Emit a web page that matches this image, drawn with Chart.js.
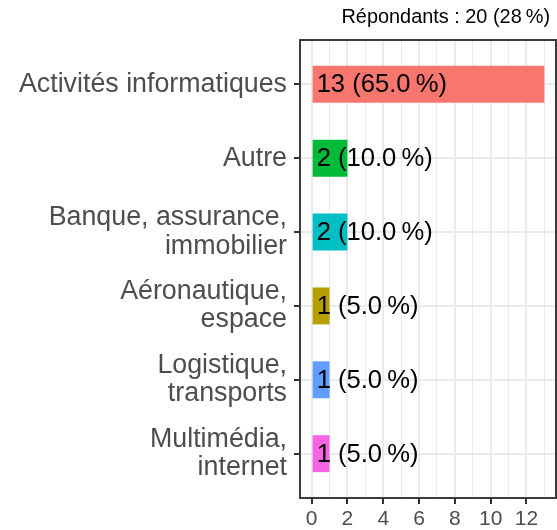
<!DOCTYPE html>
<html>
<head>
<meta charset="utf-8">
<script src="https://cdn.jsdelivr.net/npm/chart.js@4.4.1/dist/chart.umd.min.js"></script>
<style>
  html, body { margin: 0; padding: 0; background: #fff; }
  #wrap { width: 557px; height: 530px; }
</style>
</head>
<body>
<div id="wrap"><canvas id="chart" width="557" height="530"></canvas></div>
<script>
'use strict';

// values
let categories = ['Activités informatiques', 'Autre', 'Banque, assurance,\nimmobilier',
  'Aéronautique,\nespace', 'Logistique,\ntransports', 'Multimédia,\ninternet'];
let counts = [13, 2, 2, 1, 1, 1];
let percents = ['65.0', '10.0', '10.0', '5.0', '5.0', '5.0'];
let barColors = ['#F8766D', '#00BA38', '#00BFC4', '#B79F00', '#619CFF', '#F564E3'];
let xTicks = [0, 1, 2, 3, 4, 5, 6, 7, 8, 9, 10, 11, 12, 13];
let subtitle = 'Répondants : 20 (28\u202F%)';

let fontFamily = '"Liberation Sans", Arial, Helvetica, sans-serif';

let points = [];
for (let i = 0; i < counts.length; i++) {
  points.push({ x: counts[i], y: i + 1 });
}

// text labels next to bars + header + panel border
let extrasPlugin = {
  id: 'extras',
  afterDatasetsDraw(chart) {
    let ctx = chart.ctx;
    let xs = chart.scales.x;
    let ys = chart.scales.y;
    ctx.save();
    ctx.fillStyle = '#000';
    ctx.font = '25.6px ' + fontFamily;
    ctx.textBaseline = 'middle';
    ctx.textAlign = 'left';
    for (let i = 0; i < counts.length; i++) {
      let txt = counts[i] + ' (' + percents[i] + '\u202F%)';
      ctx.fillText(txt, xs.getPixelForValue(0) + 5, ys.getPixelForValue(i + 1) + 1);
    }
    ctx.restore();
  },
  afterDraw(chart) {
    let ctx = chart.ctx;
    let a = chart.chartArea;
    ctx.save();
    ctx.strokeStyle = '#333333';
    ctx.lineWidth = 1.9;
    ctx.strokeRect(a.left, a.top, a.right - a.left, a.bottom - a.top);
    ctx.fillStyle = '#000';
    ctx.font = '19.9px ' + fontFamily;
    ctx.textAlign = 'right';
    ctx.textBaseline = 'middle';
    ctx.fillText(subtitle, 550, 18);
    ctx.restore();
  }
};

let chart = new Chart(document.getElementById('chart').getContext('2d'), {
  type: 'bar',
  data: {
    datasets: [{
      data: points,
      backgroundColor: barColors,
      borderWidth: 0,
      barPercentage: 0.5,
      categoryPercentage: 1
    }]
  },
  options: {
    indexAxis: 'y',
    responsive: false,
    animation: false,
    layout: { padding: { top: 40, right: 1, left: 0, bottom: 0 } },
    plugins: {
      legend: { display: false },
      tooltip: { enabled: false }
    },
    scales: {
      x: {
        type: 'linear',
        min: -0.65,
        max: 13.65,
        afterBuildTicks: function (scale) {
          scale.ticks = xTicks.map(function (v) { return { value: v }; });
        },
        afterFit: function (scale) { scale.height = 32; },
        border: { display: false },
        grid: {
          color: '#ebebeb',
          lineWidth: function (c) { return c.tick && c.tick.value % 2 === 0 ? 2 : 1; },
          tickColor: function (c) { return c.tick && c.tick.value % 2 === 0 ? '#333333' : 'rgba(0,0,0,0)'; },
          tickLength: 6,
          tickWidth: 2
        },
        ticks: {
          color: '#4d4d4d',
          font: { size: 21, family: fontFamily },
          padding: 3,
          maxRotation: 0,
          autoSkip: false,
          callback: function (v) { return v % 2 === 0 ? String(v) : ''; }
        }
      },
      y: {
        type: 'linear',
        reverse: true,
        offset: false,
        min: 0.4,
        max: 6.6,
        afterBuildTicks: function (scale) {
          scale.ticks = categories.map(function (c, i) { return { value: i + 1 }; });
        },
        afterFit: function (scale) { scale.width = 300; },
        border: { display: false },
        grid: {
          offset: false,
          color: '#ebebeb',
          lineWidth: 2,
          tickColor: '#333333',
          tickLength: 6,
          tickWidth: 2
        },
        ticks: {
          color: '#4d4d4d',
          font: { size: 26.8, family: fontFamily, lineHeight: 1.05 },
          padding: 7,
          autoSkip: false,
          callback: function (v) {
            let c = categories[Math.round(v) - 1];
            return c ? c.split('\n') : '';
          }
        }
      }
    }
  },
  plugins: [extrasPlugin]
});
</script>
</body>
</html>
